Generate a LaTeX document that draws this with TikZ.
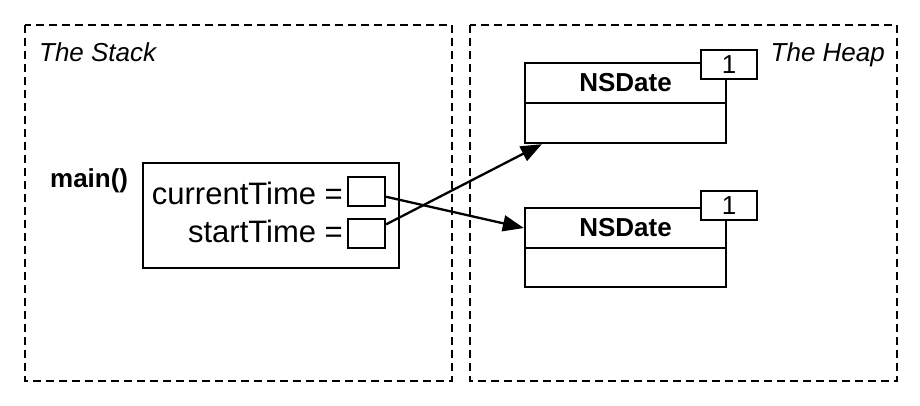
\documentclass[tikz,border=0pt]{standalone}
\usepackage{fontspec}
\setmainfont{Liberation Sans}
\usetikzlibrary{arrows.meta,calc}
\newcommand\midfont{\fontsize{26}{30}\selectfont}
\newcommand\bigfont{\fontsize{31}{35}\selectfont}

\begin{document}
\begin{tikzpicture}[x=1pt,y=-1pt,line width=2.3pt,
  region/.style={draw,dash pattern=on 8pt off 5pt},
  slot/.style={draw,minimum width=37pt,minimum height=29pt,inner sep=0pt},
  cell/.style={draw,minimum width=201pt,minimum height=40pt,inner sep=0pt,font=\midfont\bfseries},
  count/.style={draw,fill=white,minimum width=56pt,minimum height=29pt,inner sep=0pt,font=\midfont},
  ptr/.style={-{Triangle[length=21pt,width=16pt]}}]
 \useasboundingbox (0,0) rectangle (920,405);
 \draw[region] (25,25) rectangle (452,381);\draw[region] (470,25) rectangle (897,381);
 \node[anchor=base west,inner sep=0pt,font=\midfont\itshape] (stacklbl) at (38,61) {The Stack};
 \node[anchor=base east,inner sep=0pt,font=\midfont\itshape] (heaplbl) at (886,61) {The Heap};
 % the frame of main()
 \node[anchor=base west,inner sep=0pt,font=\midfont\bfseries] (mainlbl) at (49,187) {main()};
 \node[draw,minimum width=256pt,minimum height=105pt] (frame) at (271,215.5) {};
 \node[slot] (cur) at (366.5,191.5) {};\node[slot] (start) at (366.5,233.5) {};
 \node[anchor=base east,inner sep=0pt,font=\bigfont] (curlbl) at (344,204) {currentTime =};
 \node[anchor=base east,inner sep=0pt,font=\bigfont] (startlbl) at (344,242) {startTime =};
 % two objects on the heap
 \node[cell] (hdrA) at (625.5,83) {NSDate};\node[cell] (bodyA) at (625.5,123) {};
 \node[count] (cntA) at (729,64.5) {1};
 \node[cell] (hdrB) at (625.5,228) {NSDate};\node[cell,minimum height=39pt] (bodyB) at (625.5,267.5) {};
 \node[count] (cntB) at (729,205.5) {1};
 \coordinate (tipA) at ($(bodyA.south west)+(18,0)$);
 \draw[ptr] (cur.-15) -- (hdrB.west);
 \draw[ptr] (start.25) -- (tipA);
\end{tikzpicture}
\end{document}
